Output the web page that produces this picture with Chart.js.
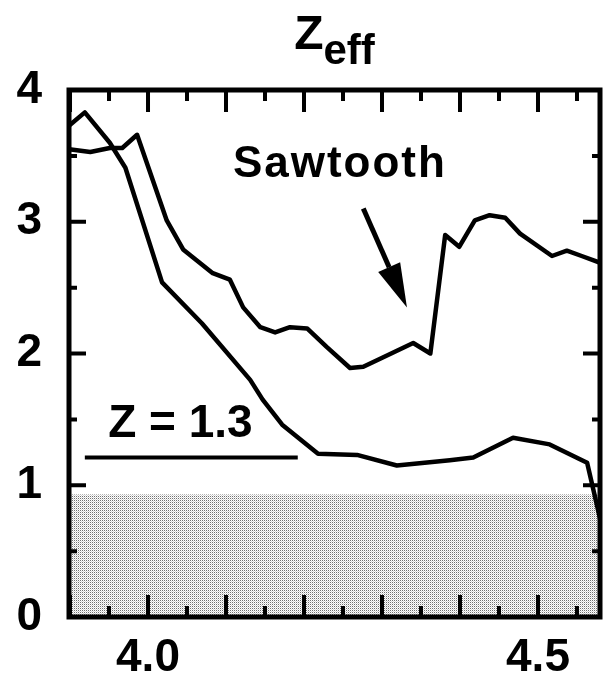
<!DOCTYPE html>
<html><head><meta charset="utf-8">
<script src="https://cdn.jsdelivr.net/npm/chart.js@4.4.1/dist/chart.umd.min.js"></script>
<style>html,body{margin:0;padding:0;background:#fff;}canvas{display:block}</style>
</head><body>
<canvas id="c" width="607" height="681"></canvas>
<script>
// Lower curve (drops to ~1.2)
const xA = [3.899, 3.919, 3.951, 3.971, 4.018, 4.069, 4.131, 4.147, 4.172, 4.218, 4.268, 4.319, 4.387, 4.417, 4.468, 4.515, 4.563, 4.586];
const yA = [3.73, 3.83, 3.60, 3.41, 2.54, 2.23, 1.80, 1.65, 1.46, 1.24, 1.23, 1.15, 1.19, 1.21, 1.36, 1.31, 1.17, 0.58];
// Upper curve (sawtooth)
const xB = [3.899, 3.926, 3.951, 3.967, 3.986, 4.024, 4.045, 4.083, 4.105, 4.122, 4.144, 4.163, 4.182, 4.204, 4.229, 4.259, 4.276, 4.301, 4.340, 4.362, 4.381, 4.399, 4.419, 4.438, 4.458, 4.477, 4.518, 4.537, 4.556, 4.579];
const yB = [3.55, 3.53, 3.56, 3.56, 3.66, 3.01, 2.79, 2.61, 2.56, 2.35, 2.20, 2.16, 2.20, 2.19, 2.05, 1.89, 1.90, 1.97, 2.08, 2.00, 2.90, 2.81, 3.01, 3.05, 3.03, 2.91, 2.74, 2.78, 2.74, 2.69];
// Z = 1.3 reference segment
const refX = [3.919, 4.192];
const refY = [1.21, 1.21];
// shaded band
const shadeX = [3.8987, 4.5795];
const shadeY = [0.93, 0.93];
const xRange = [3.8987, 4.5795];
const yRange = [0, 4];
const xTickLabels = [4.0, 4.5];
const yTickLabels = [0, 1, 2, 3, 4];

const FONT = '"Liberation Sans", Arial, Helvetica, sans-serif';
const canvas = document.getElementById('c');
const ctx0 = canvas.getContext('2d');
function makePattern() {
  const t = document.createElement('canvas'); t.width = 2; t.height = 2;
  const g = t.getContext('2d');
  g.fillStyle = '#fff'; g.fillRect(0, 0, 2, 2);
  g.fillStyle = '#707070'; g.fillRect(0, 0, 1, 1);
  g.fillStyle = '#d4d4d4'; g.fillRect(1, 1, 1, 1);
  return ctx0.createPattern(t, 'repeat');
}
const pts = (xs, ys) => xs.map((x, i) => ({x, y: ys[i]}));

const decor = {
  id: 'decor',
  afterDatasetsDraw(chart) {
    const ctx = chart.ctx, a = chart.chartArea, xs = chart.scales.x, ys = chart.scales.y;
    ctx.save();
    ctx.strokeStyle = '#000'; ctx.fillStyle = '#000';
    // inward ticks
    ctx.lineWidth = 4; ctx.lineCap = 'butt';
    for (let k = Math.ceil(xRange[0] * 20); k <= Math.floor(xRange[1] * 20); k++) {
      const px = xs.getPixelForValue(k / 20);
      const len = (k % 2 === 0) ? 22 : 11;
      ctx.beginPath(); ctx.moveTo(px, a.bottom); ctx.lineTo(px, a.bottom - len);
      ctx.moveTo(px, a.top); ctx.lineTo(px, a.top + len); ctx.stroke();
    }
    for (let k = Math.ceil(yRange[0] * 2); k <= Math.floor(yRange[1] * 2); k++) {
      const py = ys.getPixelForValue(k / 2);
      const len = (k % 2 === 0) ? 17 : 8;
      ctx.beginPath(); ctx.moveTo(a.left, py); ctx.lineTo(a.left + len, py);
      ctx.moveTo(a.right, py); ctx.lineTo(a.right - len, py); ctx.stroke();
    }
    // frame
    ctx.lineWidth = 5;
    ctx.strokeRect(a.left, a.top, a.right - a.left, a.bottom - a.top);
    // title Z_eff
    ctx.textBaseline = 'alphabetic'; ctx.textAlign = 'left';
    ctx.font = 'bold 48px ' + FONT;
    const wZ = ctx.measureText('Z').width;
    ctx.font = 'bold 42px ' + FONT;
    const wE = ctx.measureText('eff').width;
    const sx = (a.left + a.right) / 2 - (wZ + wE) / 2;
    ctx.font = 'bold 48px ' + FONT; ctx.fillText('Z', sx, 49);
    ctx.font = 'bold 42px ' + FONT; ctx.fillText('eff', sx + wZ, 64);
    // Sawtooth label
    ctx.font = 'bold 44px ' + FONT;
    try { ctx.letterSpacing = '2px'; } catch (e) {}
    ctx.textAlign = 'center';
    ctx.fillText('Sawtooth', xs.getPixelForValue(4.246), ys.getPixelForValue(3.34));
    try { ctx.letterSpacing = '0px'; } catch (e) {}
    // Z = 1.3 label
    ctx.textAlign = 'left';
    ctx.font = 'bold 46px ' + FONT;
    ctx.fillText('Z = 1.3', xs.getPixelForValue(3.949), ys.getPixelForValue(1.37));
    // arrow
    const x0 = xs.getPixelForValue(4.276), y0 = ys.getPixelForValue(3.10);
    const x1 = xs.getPixelForValue(4.332), y1 = ys.getPixelForValue(2.35);
    const ang = Math.atan2(y1 - y0, x1 - x0);
    const hl = 44, hw = 12;
    const bx = x1 - hl * Math.cos(ang), by = y1 - hl * Math.sin(ang);
    ctx.lineWidth = 5;
    ctx.beginPath(); ctx.moveTo(x0, y0); ctx.lineTo(bx, by); ctx.stroke();
    ctx.beginPath(); ctx.moveTo(x1, y1);
    ctx.lineTo(bx + hw * Math.sin(ang), by - hw * Math.cos(ang));
    ctx.lineTo(bx - hw * Math.sin(ang), by + hw * Math.cos(ang));
    ctx.closePath(); ctx.fill();
    ctx.restore();
  }
};

new Chart(canvas, {
  type: 'line',
  data: {
    datasets: [
      {data: pts(xA, yA), borderColor: '#000', borderWidth: 4.5, pointRadius: 0, tension: 0, fill: false, borderJoinStyle: 'round', order: 1},
      {data: pts(xB, yB), borderColor: '#000', borderWidth: 4.5, pointRadius: 0, tension: 0, fill: false, borderJoinStyle: 'round', order: 2},
      {data: pts(refX, refY), borderColor: '#000', borderWidth: 4, pointRadius: 0, tension: 0, fill: false, order: 3},
      {data: pts(shadeX, shadeY), borderWidth: 0, borderColor: 'rgba(0,0,0,0)', pointRadius: 0, fill: 'origin', backgroundColor: makePattern(), order: 10}
    ]
  },
  options: {
    responsive: false, animation: false, devicePixelRatio: 1,
    layout: {padding: {left: 0, right: 7, top: 90, bottom: 0}},
    plugins: {legend: {display: false}, tooltip: {enabled: false}, title: {display: false}},
    scales: {
      x: {
        type: 'linear', min: xRange[0], max: xRange[1],
        grid: {display: false, drawTicks: false}, border: {display: false},
        afterBuildTicks: s => { s.ticks = xTickLabels.map(v => ({value: v})); },
        afterFit: s => { s.height = 64; },
        ticks: {autoSkip: false, maxRotation: 0, padding: 14, color: '#000', font: {family: FONT, weight: 'bold', size: 46},
          callback: v => Number(v).toFixed(1)}
      },
      y: {
        type: 'linear', min: yRange[0], max: yRange[1],
        grid: {display: false, drawTicks: false}, border: {display: false},
        afterBuildTicks: s => { s.ticks = yTickLabels.map(v => ({value: v})); },
        afterFit: s => { s.width = 69; },
        ticks: {padding: 27, color: '#000', font: {family: FONT, weight: 'bold', size: 46}}
      }
    }
  },
  plugins: [decor]
});
</script>
</body></html>
